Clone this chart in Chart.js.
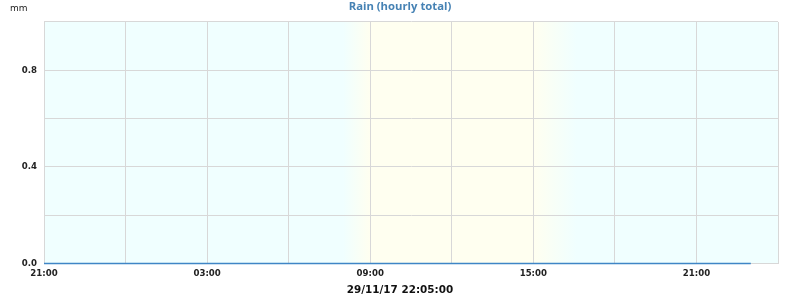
<!DOCTYPE html>
<html>
<head>
<meta charset="utf-8">
<script src="https://cdn.jsdelivr.net/npm/chart.js@4"></script>
<style>
html,body{margin:0;padding:0;background:#fff;}
#c{display:block;}
</style>
</head>
<body>
<canvas id="c" width="800" height="300"></canvas>
<script>
// Hour offsets from 21:00 on 28/11/17
const hourOffsets = [0,1,2,3,4,5,6,7,8,9,10,11,12,13,14,15,16,17,18,19,20,21,22,23,24,25,26];
const rainValues  = [0,0,0,0,0,0,0,0,0,0,0,0,0,0,0,0,0,0,0,0,0,0,0,0,0,0,0];
const startHour = 21;
const xRange = [0, 27];
const yRange = [0, 1];
const yLabelled = [0, 0.4, 0.8];
// day band: dawn start, dawn end, dusk start, dusk end (hour offsets)
const daylight = [11, 12, 18, 19.6];
const titleText = 'Rain (hourly total)';
const unitText = 'mm';
const stampText = '29/11/17 22:05:00';

const FONT = "'DejaVu Sans', Verdana, sans-serif";
const TFONT = "'Open Sans', 'DejaVu Sans', sans-serif";
const NIGHT = '#f0ffff';
const DAY = '#fffff0';

const bgPlugin = {
  id: 'bg',
  beforeDraw(chart) {
    const {ctx, chartArea: a, scales} = chart;
    const xs = scales.x;
    const w = a.right - a.left;
    const g = ctx.createLinearGradient(a.left, 0, a.right, 0);
    const f = v => Math.min(1, Math.max(0, (xs.getPixelForValue(v) - a.left) / w));
    g.addColorStop(0, NIGHT);
    g.addColorStop(f(daylight[0]), NIGHT);
    g.addColorStop(f(daylight[1]), DAY);
    g.addColorStop(f(daylight[2]), DAY);
    g.addColorStop(f(daylight[3]), NIGHT);
    g.addColorStop(1, NIGHT);
    ctx.save();
    ctx.fillStyle = g;
    ctx.fillRect(a.left, a.top, w, a.bottom - a.top);
    ctx.restore();
  },
  afterDraw(chart) {
    const ctx = chart.ctx;
    ctx.save();
    ctx.font = "9px " + FONT;
    ctx.fillStyle = '#222';
    ctx.textBaseline = 'middle';
    ctx.textAlign = 'left';
    ctx.fillText(unitText, 10, 9);
    ctx.restore();
  }
};

new Chart(document.getElementById('c'), {
  type: 'line',
  data: {
    datasets: [{
      data: hourOffsets.map((h, i) => ({x: h, y: rainValues[i]})),
      borderColor: '#3f86c6',
      borderWidth: 1.5,
      pointRadius: 0,
      fill: false,
      tension: 0,
      clip: false
    }]
  },
  plugins: [bgPlugin],
  options: {
    responsive: false,
    animation: false,
    layout: {padding: 0},
    plugins: {
      legend: {display: false},
      tooltip: {enabled: false},
      title: {
        display: true,
        text: titleText,
        color: '#4682b4',
        font: {family: TFONT, size: 11.3, weight: 'bold'},
        padding: {top: 0, bottom: 8.4}
      },
      subtitle: {
        display: true,
        position: 'bottom',
        text: stampText,
        color: '#111',
        font: {family: FONT, size: 10.4, weight: 'bold'},
        padding: {top: 0, bottom: 3}
      }
    },
    scales: {
      x: {
        type: 'linear',
        min: xRange[0],
        max: xRange[1],
        afterFit(s) { s.height = 21; },
        grid: {color: '#d8d8d8', drawTicks: false, lineWidth: 1},
        border: {color: '#d8d8d8'},
        ticks: {
          stepSize: 3,
          padding: 5,
          maxRotation: 0,
          autoSkip: false,
          color: '#222',
          font: {family: FONT, size: 8.6, weight: 'bold'},
          callback(v) {
            if (v % 6 !== 0) return '';
            const h = (startHour + v) % 24;
            return String(h).padStart(2, '0') + ':00';
          }
        }
      },
      y: {
        min: yRange[0],
        max: yRange[1],
        afterFit(s) { s.width = 44; },
        grid: {color: '#d8d8d8', drawTicks: false, lineWidth: 1},
        border: {color: '#d8d8d8'},
        ticks: {
          stepSize: 0.2,
          padding: 7,
          color: '#222',
          font: {family: FONT, size: 8.6, weight: 'bold'},
          callback(v) {
            const r = Math.round(v * 10) / 10;
            return yLabelled.some(t => Math.abs(t - r) < 1e-6) ? r.toFixed(1) : '';
          }
        }
      },
      yRight: {
        position: 'right',
        min: yRange[0],
        max: yRange[1],
        afterFit(s) { s.width = 22; },
        grid: {display: false, drawTicks: false},
        border: {display: false},
        ticks: {display: false}
      }
    }
  }
});
</script>
</body>
</html>
